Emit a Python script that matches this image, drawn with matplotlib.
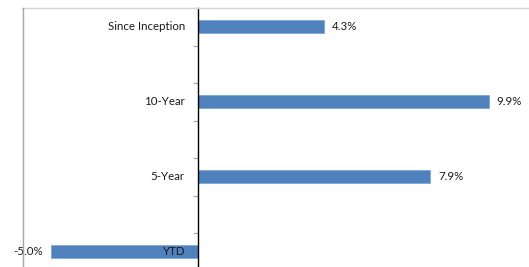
import matplotlib
matplotlib.use("Agg")
from matplotlib import pyplot as plt
from matplotlib.lines import Line2D

plt.rcParams['font.family'] = ['Lato', 'DejaVu Sans']

categories = ["Since Inception", "10-Year", "5-Year", "YTD"]
returns = [4.3, 9.9, 7.9, -5.0]
value_labels = ["4.3%", "9.9%", "7.9%", "-5.0%"]

BAR_COLOR = '#4f81bd'
FONT_SIZE = 8.3

W, H = 529, 267
fig = plt.figure(figsize=(W / 100, H / 100), dpi=100)
ax = fig.add_axes([22 / W, -3.5 / H, 1 - 22 / W, 262.5 / H])

# each category sits two slots apart (Excel blank rows in between)
ypos = [2 * i for i in range(len(categories))]
ax.barh(ypos, returns, height=0.35, color=BAR_COLOR, edgecolor='#7ea6d6', linewidth=0.6)

XMIN, XMAX = -5.98, 11.27
ax.set_xlim(XMIN, XMAX)
ax.set_ylim(6.5, -0.5)

# vertical axis through zero with ticks at slot boundaries
ax.spines['left'].set_position(('data', 0))
ax.spines['left'].set_color('black')
ax.spines['left'].set_linewidth(1.0)
ax.spines['right'].set_visible(False)
ax.spines['bottom'].set_visible(False)
ax.spines['top'].set_color('#d4d4d4')
ax.spines['top'].set_linewidth(1.0)
ax.set_yticks([y + 0.5 for y in range(-1, 7)])
ax.set_yticklabels([])
ax.tick_params(axis='y', length=3.5, color='#a0a0a0', width=0.8)
ax.set_xticks([])

# chart border on the left
fig.add_artist(Line2D([22.5 / W, 22.5 / W], [0, 1 - 8 / H], transform=fig.transFigure,
                      color='#a6a6a6', linewidth=1.0))

px = (XMAX - XMIN) / (W - 22)  # data units per pixel
for y, cat, val, lab in zip(ypos, categories, returns, value_labels):
    ax.text(-13 * px, y, cat, ha='right', va='center', fontsize=FONT_SIZE, color='#1a1a1a')
    if val >= 0:
        ax.text(val + 8 * px, y, lab, ha='left', va='center', fontsize=FONT_SIZE, color='#1a1a1a')
    else:
        ax.text(val - 8 * px, y, lab, ha='right', va='center', fontsize=FONT_SIZE, color='#1a1a1a')

fig.savefig("out.png", dpi=100)
